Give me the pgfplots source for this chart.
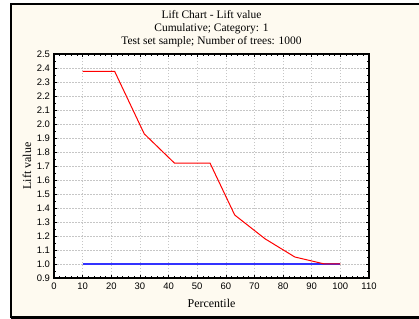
\documentclass[border=0pt]{standalone}
\usepackage{pgfplots}
\pgfplotsset{compat=1.18}
\usepackage{fontspec}
\setmainfont{Liberation Serif}
\newfontfamily\arialfont{Liberation Sans}
\definecolor{cream}{RGB}{254,250,240}
\definecolor{lineblue}{RGB}{50,50,255}
\definecolor{linered}{RGB}{255,0,0}
\begin{document}
\begin{tikzpicture}[x=1bp,y=1bp]
\useasboundingbox (0,0) rectangle (419,319);
\fill[white] (0,0) rectangle (419,319);
\fill[cream] (11,2) rectangle (419,315);
\draw[black,line width=2.2bp] (11,1.5) -- (11,315) -- (419,315);
\draw[black,line width=2.5bp] (11,1.5) -- (419,1.5);
\begin{axis}[
  at={(54bp,41bp)}, anchor=south west,
  width=315bp, height=224bp, scale only axis,
  axis background/.style={fill=white},
  axis line style={black, line width=1.2bp},
  xmin=0, xmax=110, ymin=0.9, ymax=2.5,
  xtick={0,10,...,110},
  ytick={0.9,1.0,...,2.5},
  minor x tick num=4, minor y tick num=1,
  tick align=inside,
  major tick length=3bp, minor tick length=1.8bp,
  tick style={black, line width=0.6bp},
  grid=major,
  major grid style={gray!45, line width=0.6bp, dash pattern=on 1.5bp off 1.5bp},
  ticklabel style={font=\arialfont\fontsize{9.5}{10}\selectfont},
  /pgf/number format/assume math mode=true,
  yticklabel style={/pgf/number format/fixed, /pgf/number format/fixed zerofill, /pgf/number format/precision=1, xshift=-0.5bp},
  xticklabel style={yshift=-1.5bp},
  every axis y label/.style={at={(axis description cs:-0.0857,0.5)}, rotate=90, anchor=center},
  every axis x label/.style={at={(axis description cs:0.5,-0.1116)}, anchor=center},
  label style={font=\fontsize{12}{14}\selectfont},
  xlabel={Percentile},
  ylabel={Lift value},
  title style={at={(axis description cs:0.5,1.087)}, anchor=center, align=center, font=\fontsize{11.5}{14.5}\selectfont},
  title={Lift Chart - Lift value\\[-1.5bp]Cumulative; Category: 1\\[-1.5bp]Test set sample; Number of trees: 1000},
]
\addplot[draw=lineblue, line width=1.3bp] coordinates {(10,1.0) (100,1.0)};
\addplot[draw=linered, line width=1bp] coordinates {
(10,2.375) (21.2,2.375) (31.5,1.93) (42.1,1.72) (54.5,1.72) (63.1,1.35) (73.7,1.18) (84.1,1.05) (94.5,1.0) (100,1.0)
};
\end{axis}
\end{tikzpicture}
\end{document}
